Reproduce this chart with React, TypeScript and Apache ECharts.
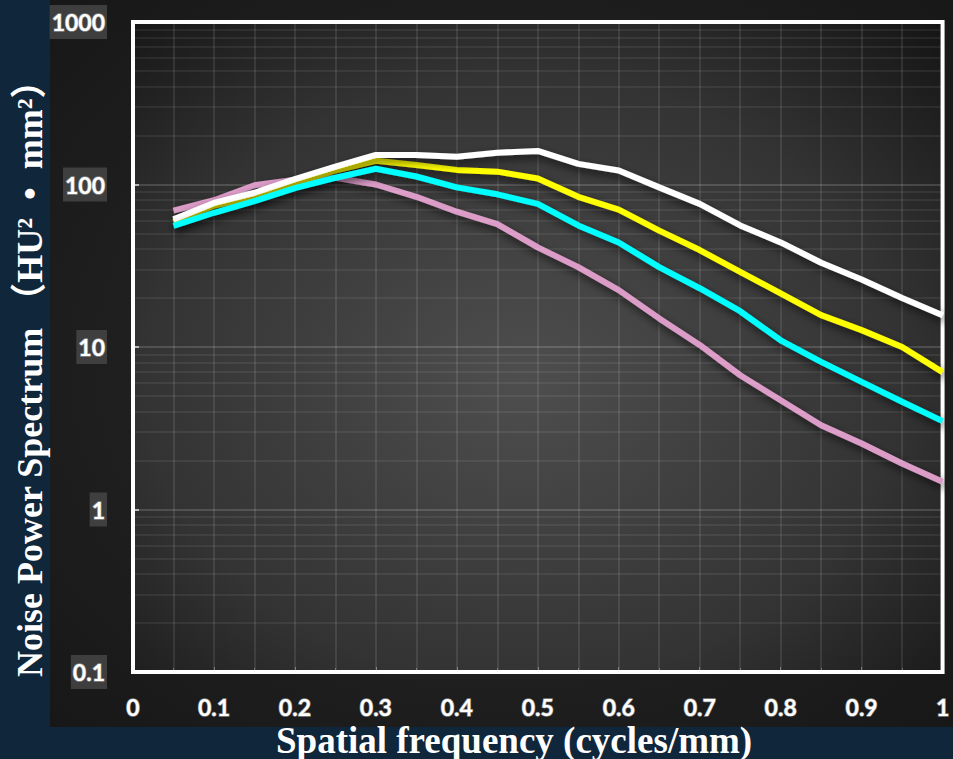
import React, { useEffect, useRef } from "react";
import * as echarts from "echarts";

const freq = [0.05, 0.1, 0.15, 0.2, 0.25, 0.3, 0.35, 0.4, 0.45, 0.5, 0.55, 0.6, 0.65, 0.7, 0.75, 0.8, 0.85, 0.9, 0.95, 1.0];
const whiteNps = [61, 77, 89, 108, 129, 152, 152, 148, 157, 161, 134, 122, 96, 76, 56, 44, 33, 26, 20, 15.7];
const yellowNps = [59, 74, 84, 102, 122, 140, 132, 123, 120, 109, 84, 70, 52, 39.5, 29, 21.4, 15.7, 12.7, 10, 7.0];
const cyanNps = [55.6, 67, 79, 95, 110, 125, 112, 96, 87, 76, 56, 44, 31, 23, 16.6, 11, 8.1, 6.1, 4.6, 3.5];
const pinkNps = [69, 80, 99, 107, 110, 100, 84, 68, 57, 41, 31, 22.4, 15, 10.3, 6.7, 4.7, 3.3, 2.55, 1.92, 1.48];

const xTitle = "Spatial frequency (cycles/mm)";
const yTitle = "Noise Power Spectrum （HU²  •  mm²）";

// minor log gridlines (2..9 within each decade)
const decades = [0.1, 1, 10, 100];
const minorGrid: number[] = [];
decades.forEach((d) => {
  for (let k = 2; k <= 9; k++) minorGrid.push(+(d * k).toPrecision(3));
});

const tickFont = {
  color: "#ffffff",
  fontFamily: "Lato",
  fontWeight: "bold" as const,
  fontSize: 23,
  textBorderColor: "rgba(150,150,150,0.85)",
  textBorderWidth: 1.5,
};

function makeSeries(name: string, values: number[], color: string, z: number) {
  return {
    name,
    type: "line",
    data: freq.map((f, i) => [f, values[i]]),
    showSymbol: false,
    symbol: "none",
    z,
    lineStyle: {
      color,
      width: 6,
      shadowColor: "rgba(0,0,0,0.65)",
      shadowBlur: 8,
      shadowOffsetX: 2,
      shadowOffsetY: 4,
    },
  };
}

export default function App() {
  const ref = useRef<HTMLDivElement>(null);
  useEffect(() => {
    if (!ref.current) return;
    const chart = echarts.init(ref.current, null, { renderer: "svg" });
    chart.setOption({
      animation: false,
      backgroundColor: "#10263a",
      graphic: [
        {
          type: "rect",
          z: -10,
          shape: { x: 50, y: 0, width: 903, height: 727 },
          style: {
            fill: new echarts.graphic.RadialGradient(0.5, 0.5, 0.8, [
              { offset: 0, color: "#2a2a2a" },
              { offset: 1, color: "#151515" },
            ]),
          },
        },
        {
          type: "text",
          x: 276,
          y: 740,
          z: 10,
          style: {
            text: xTitle,
            fill: "#ffffff",
            font: 'bold 37px "Liberation Serif", "Noto Sans CJK SC"',
            textAlign: "left",
            textVerticalAlign: "middle",
          },
        },
        {
          type: "text",
          x: 30,
          y: 677,
          rotation: Math.PI / 2,
          z: 10,
          style: {
            text: yTitle,
            fill: "#ffffff",
            font: 'bold 36px "Liberation Serif", "Noto Sans CJK SC"',
            textAlign: "left",
            textVerticalAlign: "middle",
          },
        },
      ],
      grid: {
        left: 133,
        right: 6,
        top: 22,
        bottom: 87,
        show: true,
        borderColor: "#ffffff",
        borderWidth: 4,
        backgroundColor: new echarts.graphic.RadialGradient(0.48, 0.55, 0.78, [
          { offset: 0, color: "#4e4e4e" },
          { offset: 0.6, color: "#333333" },
          { offset: 1, color: "#121212" },
        ]),
      },
      xAxis: {
        type: "value",
        min: 0,
        max: 1,
        interval: 0.1,
        axisLine: { show: false },
        axisTick: { show: true, inside: true, length: 5, lineStyle: { color: "rgba(255,255,255,0.35)" } },
        minorTick: { show: true, splitNumber: 2, length: 4, lineStyle: { color: "rgba(255,255,255,0.3)" } },
        splitLine: { show: true, lineStyle: { color: "rgba(255,255,255,0.13)", width: 1.5 } },
        minorSplitLine: { show: true, lineStyle: { color: "rgba(255,255,255,0.13)", width: 1.5 } },
        axisLabel: {
          ...tickFont,
          margin: 23,
          formatter: (v: number) => String(+v.toFixed(2)),
        },
      },
      yAxis: {
        type: "log",
        logBase: 10,
        min: 0.1,
        max: 1000,
        axisLine: { show: false },
        axisTick: { show: true, inside: true, length: 6, lineStyle: { color: "rgba(255,255,255,0.6)", width: 2 } },
        splitLine: { show: true, lineStyle: { color: "rgba(255,255,255,0.2)", width: 1.5 } },
        axisLabel: {
          ...tickFont,
          margin: 26,
          backgroundColor: "rgba(75,75,75,0.75)",
          padding: [6, 2, 5, 2],
          formatter: (v: number) => String(+v.toPrecision(3)),
        },
      },
      series: [
        {
          type: "line",
          data: [],
          z: 1,
          silent: true,
          markLine: {
            silent: true,
            symbol: ["none", "none"],
            label: { show: false },
            lineStyle: { color: "rgba(255,255,255,0.09)", type: "solid", width: 1.5 },
            data: minorGrid.map((v) => ({ yAxis: v })),
          },
        },
        makeSeries("pink", pinkNps, "#dc9cc8", 2),
        makeSeries("yellow", yellowNps, "#ffff00", 3),
        makeSeries("white", whiteNps, "#ffffff", 4),
        makeSeries("cyan", cyanNps, "#00ffff", 5),
      ],
    });
    return () => chart.dispose();
  }, []);
  return (
    <div
      ref={ref}
      style={{ position: "absolute", left: 0, top: 0, width: 953, height: 759 }}
    />
  );
}
